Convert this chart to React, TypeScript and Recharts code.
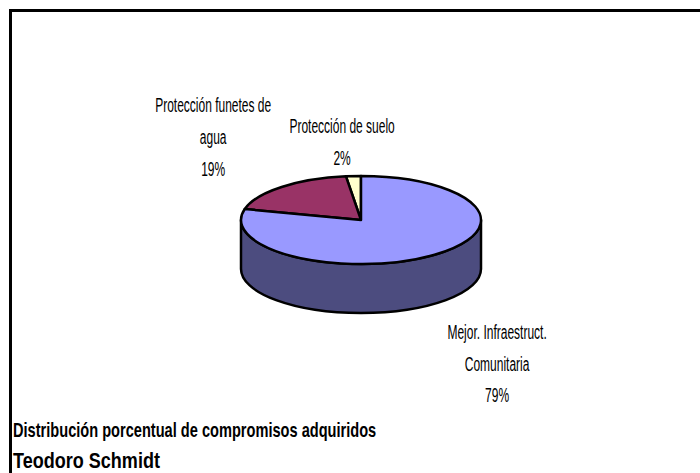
import { PieChart, Pie, Cell } from "recharts"

// slices, counter-clockwise from 12 o'clock
const CATEGORIES = [
  "Protección de suelo",
  "Protección funetes de\nagua",
  "Mejor. Infraestruct.\nComunitaria",
]
const VALUES = [2, 19, 79]
const TOP_COLORS = ["#FFFFCC", "#993366", "#9999FF"]
const SIDE_COLORS = ["#80806A", "#4D1A33", "#4C4C7F"]

const TITLE = "Distribución porcentual de compromisos adquiridos"
const SUBTITLE = "Teodoro Schmidt"

const data = CATEGORIES.map((name, i) => ({ name, value: VALUES[i] }))

const TILT = 44 / 120
const DEPTH = 49
const FONT = "'Liberation Sans', Arial, sans-serif"

// label placement around the ellipse, with small hand nudges like Excel's
const LABEL_RX = 222
const LABEL_RY = 112
const LABEL_NUDGE = [
  [-5, 34],
  [-1, 1],
  [0, 6],
]

const pt = (cx: number, cy: number, r: number, deg: number, dy = 0) => {
  const a = (deg * Math.PI) / 180
  return [cx + r * Math.cos(a), cy - r * TILT * Math.sin(a) + dy]
}

function TopSlice(props: any) {
  const { cx, cy, outerRadius: r, startAngle, endAngle, fill } = props
  const a1 = Math.min(startAngle, endAngle)
  const a2 = Math.max(startAngle, endAngle)
  const [x1, y1] = pt(cx, cy, r, a1)
  const [x2, y2] = pt(cx, cy, r, a2)
  const large = a2 - a1 > 180 ? 1 : 0
  const d = `M${cx},${cy} L${x1},${y1} A${r},${r * TILT} 0 ${large} 0 ${x2},${y2} Z`
  return <path d={d} fill={fill} stroke="#000" strokeWidth={2.5} strokeLinejoin="round" />
}

function SideSlice(props: any) {
  const { cx, cy, outerRadius: r, startAngle, endAngle, fill } = props
  const a1 = Math.min(startAngle, endAngle)
  const a2 = Math.max(startAngle, endAngle)
  const parts: number[][] = []
  for (const off of [-360, 0, 360]) {
    const s = Math.max(a1, 180 + off)
    const e = Math.min(a2, 360 + off)
    if (e > s) parts.push([s, e])
  }
  return (
    <g>
      {parts.map(([s, e], k) => {
        const [x1, y1] = pt(cx, cy, r, s)
        const [x2, y2] = pt(cx, cy, r, e)
        const d =
          `M${x1},${y1} A${r},${r * TILT} 0 0 0 ${x2},${y2} ` +
          `L${x2},${y2 + DEPTH} A${r},${r * TILT} 0 0 1 ${x1},${y1 + DEPTH} Z`
        return <path key={k} d={d} fill={fill} stroke="#000" strokeWidth={2.5} strokeLinejoin="round" />
      })}
    </g>
  )
}

const renderLabel = (props: any) => {
  const { cx, cy, midAngle, percent, index, name } = props
  const a = (midAngle * Math.PI) / 180
  const s = Math.sin(a)
  const x = cx + LABEL_RX * Math.cos(a) + LABEL_NUDGE[index][0]
  const y = cy - LABEL_RY * s + (s < 0 ? DEPTH : 0) + LABEL_NUDGE[index][1]
  const lines = [...String(name).split("\n"), `${Math.round(percent * 100)}%`]
  return (
    <g transform={`translate(${x},${y}) scale(0.6,1)`}>
      <text textAnchor="middle" fontFamily={FONT} fontSize={20} fill="#000">
        {lines.map((l, i) => (
          <tspan key={i} x={0} y={(i - (lines.length - 1) / 2) * 32 + 7}>
            {l}
          </tspan>
        ))}
      </text>
    </g>
  )
}

export default function App() {
  return (
    <div
      style={{
        position: "absolute",
        left: 0,
        top: 0,
        width: 700,
        height: 473,
        background: "#fff",
        overflow: "hidden",
      }}
    >
      <div
        style={{
          position: "absolute",
          left: 9,
          top: 9,
          width: 700,
          height: 480,
          borderTop: "3px solid #000",
          borderLeft: "3px solid #000",
        }}
      />
      <div style={{ position: "absolute", left: 0, top: 0 }}>
        <PieChart width={700} height={473} margin={{ top: 0, right: 0, bottom: 0, left: 0 }}>
          <Pie
            data={data}
            dataKey="value"
            nameKey="name"
            cx={361}
            cy={220}
            outerRadius={120}
            startAngle={90}
            endAngle={450}
            isAnimationActive={false}
            shape={SideSlice}
            inactiveShape={SideSlice}
            activeShape={SideSlice}
            label={false}
          >
            {data.map((_, i) => (
              <Cell key={i} fill={SIDE_COLORS[i]} />
            ))}
          </Pie>
          <Pie
            data={data}
            dataKey="value"
            nameKey="name"
            cx={361}
            cy={220}
            outerRadius={120}
            startAngle={90}
            endAngle={450}
            isAnimationActive={false}
            shape={TopSlice}
            inactiveShape={TopSlice}
            activeShape={TopSlice}
            label={renderLabel}
            labelLine={false}
          >
            {data.map((_, i) => (
              <Cell key={i} fill={TOP_COLORS[i]} />
            ))}
          </Pie>
        </PieChart>
      </div>
      <svg width={700} height={473} style={{ position: "absolute", left: 0, top: 0, pointerEvents: "none" }}>
        <text
          transform="translate(13,437) scale(0.73,1)"
          fontFamily={FONT}
          fontWeight="bold"
          fontSize={20}
          fill="#000"
        >
          {TITLE}
        </text>
        <text
          transform="translate(13,468) scale(0.82,1)"
          fontFamily={FONT}
          fontWeight="bold"
          fontSize={22}
          fill="#000"
        >
          {SUBTITLE}
        </text>
      </svg>
    </div>
  )
}
